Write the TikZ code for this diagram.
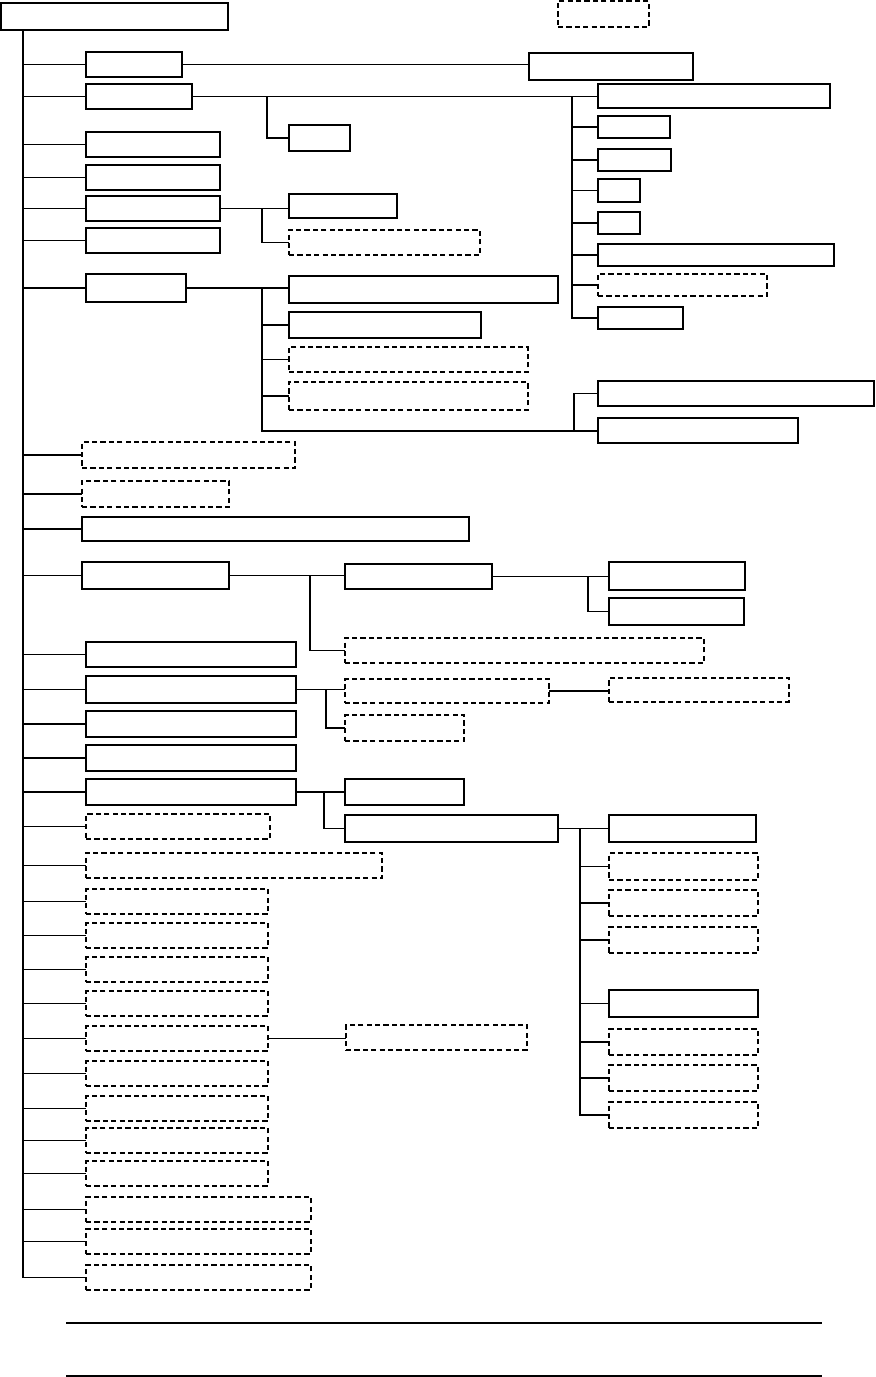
\documentclass[tikz,border=0pt]{standalone}
\usetikzlibrary{fit}

\tikzset{
  sbox/.style={draw, line width=0.6pt, inner sep=0pt, outer sep=0pt},
  dbox/.style={sbox, dash pattern=on 2.6pt off 1.6pt},
  link/.style={line width=0.6pt},
}

\begin{document}
\begin{tikzpicture}[x=0.5pt, y=-0.5pt]
  \useasboundingbox (0,0) rectangle (875,1377);
  % root and the little key box
  \node[sbox, fit={(1,3) (228,30)}] (root) {};
  \node[dbox, fit={(558,1) (649,27)}] (key) {};
  \coordinate (trunk) at (23,30);

  % first level, hanging off the trunk
  \node[sbox, fit={(86,52) (182,77)}] (a1) {};
  \node[sbox, fit={(86,84) (192,109)}] (a2) {};
  \node[sbox, fit={(86,132) (220,157)}] (a3) {};
  \node[sbox, fit={(86,165) (220,190)}] (a4) {};
  \node[sbox, fit={(86,196) (220,221)}] (a5) {};
  \node[sbox, fit={(86,228) (220,253)}] (a6) {};
  \node[sbox, fit={(86,274) (186,302)}] (a7) {};
  \node[dbox, fit={(82,442) (295,468)}] (a8) {};
  \node[dbox, fit={(82,481) (229,507)}] (a9) {};
  \node[sbox, fit={(82,517) (469,541)}] (a10) {};
  \node[sbox, fit={(82,562) (229,589)}] (a11) {};
  \node[sbox, fit={(86,642) (296,667)}] (a12) {};
  \node[sbox, fit={(86,676) (296,703)}] (a13) {};
  \node[sbox, fit={(86,711) (296,737)}] (a14) {};
  \node[sbox, fit={(86,745) (296,771)}] (a15) {};
  \node[sbox, fit={(86,779) (296,805)}] (a16) {};
  \node[dbox, fit={(86,814) (270,839)}] (a17) {};
  \node[dbox, fit={(86,853) (382,878)}] (a18) {};
  \node[dbox, fit={(86,889) (268,914)}] (a19) {};
  \node[dbox, fit={(86,923) (268,948)}] (a20) {};
  \node[dbox, fit={(86,957) (268,982)}] (a21) {};
  \node[dbox, fit={(86,991) (268,1016)}] (a22) {};
  \node[dbox, fit={(86,1026) (268,1051)}] (a23) {};
  \node[dbox, fit={(86,1061) (268,1086)}] (a24) {};
  \node[dbox, fit={(86,1096) (268,1121)}] (a25) {};
  \node[dbox, fit={(86,1128) (268,1153)}] (a26) {};
  \node[dbox, fit={(86,1161) (268,1186)}] (a27) {};
  \node[dbox, fit={(86,1197) (311,1222)}] (a28) {};
  \node[dbox, fit={(86,1229) (311,1254)}] (a29) {};
  \node[dbox, fit={(86,1265) (311,1290)}] (a30) {};

  \draw[link] (trunk) -- (trunk |- a30.west);
  \foreach \n in {a1,a2,a3,a4,a5,a6,a7,a8,a9,a10,a11,a12,a13,a14,a15,
                  a16,a17,a18,a19,a20,a21,a22,a23,a24,a25,a26,a27,a28,a29,a30}
    \draw[link] (trunk |- \n.west) -- (\n.west);

  % second level
  \node[sbox, fit={(529,53) (693,80)}] (b0) {};
  \node[sbox, fit={(289,125) (350,151)}] (b2) {};
  \draw[link] (a1.east) -- (a1.east -| b0.west);

  \node[sbox, fit={(598,84) (830,108)}] (c1) {};
  \node[sbox, fit={(598,116) (670,138)}] (c2) {};
  \node[sbox, fit={(598,149) (671,171)}] (c3) {};
  \node[sbox, fit={(598,179) (640,202)}] (c4) {};
  \node[sbox, fit={(598,212) (640,234)}] (c5) {};
  \node[sbox, fit={(598,244) (834,266)}] (c6) {};
  \node[dbox, fit={(598,274) (767,296)}] (c7) {};
  \node[sbox, fit={(598,307) (683,329)}] (c8) {};
  \coordinate (f2) at (267,0);
  \coordinate (f3) at (572,0);
  \draw[link] (a2.east) -- (a2.east -| c1.west);
  \draw[line width=1.1pt] (a2.east -| f2) |- (b2.west);
  \draw[link] (a2.east -| f3) |- (c8.west);
  \foreach \n in {c2,c3,c4,c5,c6,c7}
    \draw[link] (f3 |- \n.west) -- (\n.west);

  \node[sbox, fit={(289,194) (397,218)}] (d1) {};
  \node[dbox, fit={(289,230) (480,255)}] (d2) {};
  \coordinate (f5) at (262,0);
  \draw[link] (a5.east) -- (a5.east -| d1.west);
  \draw[link] (a5.east -| f5) |- (d2.west);

  \node[sbox, fit={(289,276) (558,303)}] (e1) {};
  \node[sbox, fit={(289,312) (481,338)}] (e2) {};
  \node[dbox, fit={(289,347) (528,372)}] (e3) {};
  \node[dbox, fit={(289,382) (528,410)}] (e4) {};
  \node[sbox, fit={(598,381) (874,406)}] (g1) {};
  \node[sbox, fit={(598,418) (798,443)}] (g2) {};
  \coordinate (f7) at (262,431);
  \coordinate (f8) at (574,431);
  \draw[link] (a7.east) -- (a7.east -| e1.west);
  \draw[link] (f7 |- a7.east) -- (f7) -- (f8) -- (f8 -| g2.west);
  \draw[link] (f8) |- (g1.west);
  \foreach \n in {e2,e3,e4}
    \draw[link] (f7 |- \n.west) -- (\n.west);

  \node[sbox, fit={(345,564) (492,589)}] (h1) {};
  \node[dbox, fit={(345,638) (704,663)}] (h2) {};
  \node[sbox, fit={(609,562) (745,590)}] (k1) {};
  \node[sbox, fit={(609,598) (744,625)}] (k2) {};
  \coordinate (f11) at (310,0);
  \coordinate (f12) at (588,0);
  \draw[link] (a11.east) -- (a11.east -| h1.west);
  \draw[link] (f11 |- a11.east) |- (h2.west);
  \draw[link] (h1.east) -- (h1.east -| k1.west);
  \draw[link] (f12 |- h1.east) |- (k2.west);

  \node[dbox, fit={(345,679) (549,703)}] (m1) {};
  \node[dbox, fit={(345,715) (464,741)}] (m2) {};
  \node[dbox, fit={(609,678) (789,702)}] (n1) {};
  \coordinate (f13) at (326,0);
  \draw[link] (a13.east) -- (a13.east -| m1.west);
  \draw[link] (f13 |- a13.east) |- (m2.west);
  \draw[link] (m1.east) -- (m1.east -| n1.west);

  \node[sbox, fit={(345,779) (464,805)}] (p1) {};
  \node[sbox, fit={(345,815) (558,842)}] (p2) {};
  \coordinate (f16) at (324,0);
  \draw[link] (a16.east) -- (a16.east -| p1.west);
  \draw[link] (f16 |- a16.east) |- (p2.west);

  % third level under p2
  \node[sbox, fit={(609,815) (756,842)}] (q1) {};
  \node[dbox, fit={(609,853) (758,880)}] (q2) {};
  \node[dbox, fit={(609,890) (758,916)}] (q3) {};
  \node[dbox, fit={(609,927) (758,953)}] (q4) {};
  \node[sbox, fit={(609,990) (758,1017)}] (q5) {};
  \node[dbox, fit={(609,1029) (758,1055)}] (q6) {};
  \node[dbox, fit={(609,1065) (758,1091)}] (q7) {};
  \node[dbox, fit={(609,1102) (758,1128)}] (q8) {};
  \coordinate (f17) at (580,0);
  \draw[link] (p2.east) -- (p2.east -| q1.west);
  \draw[link] (f17 |- p2.east) |- (q8.west);
  \foreach \n in {q2,q3,q4,q5,q6,q7}
    \draw[link] (f17 |- \n.west) -- (\n.west);

  \node[dbox, fit={(346,1025) (527,1050)}] (r1) {};
  \draw[link] (a23.east) -- (a23.east -| r1.west);

  % rules at the foot
  \draw[link] (66,1323) -- (822,1323);
  \draw[link] (66,1376) -- (822,1376);
\end{tikzpicture}
\end{document}
